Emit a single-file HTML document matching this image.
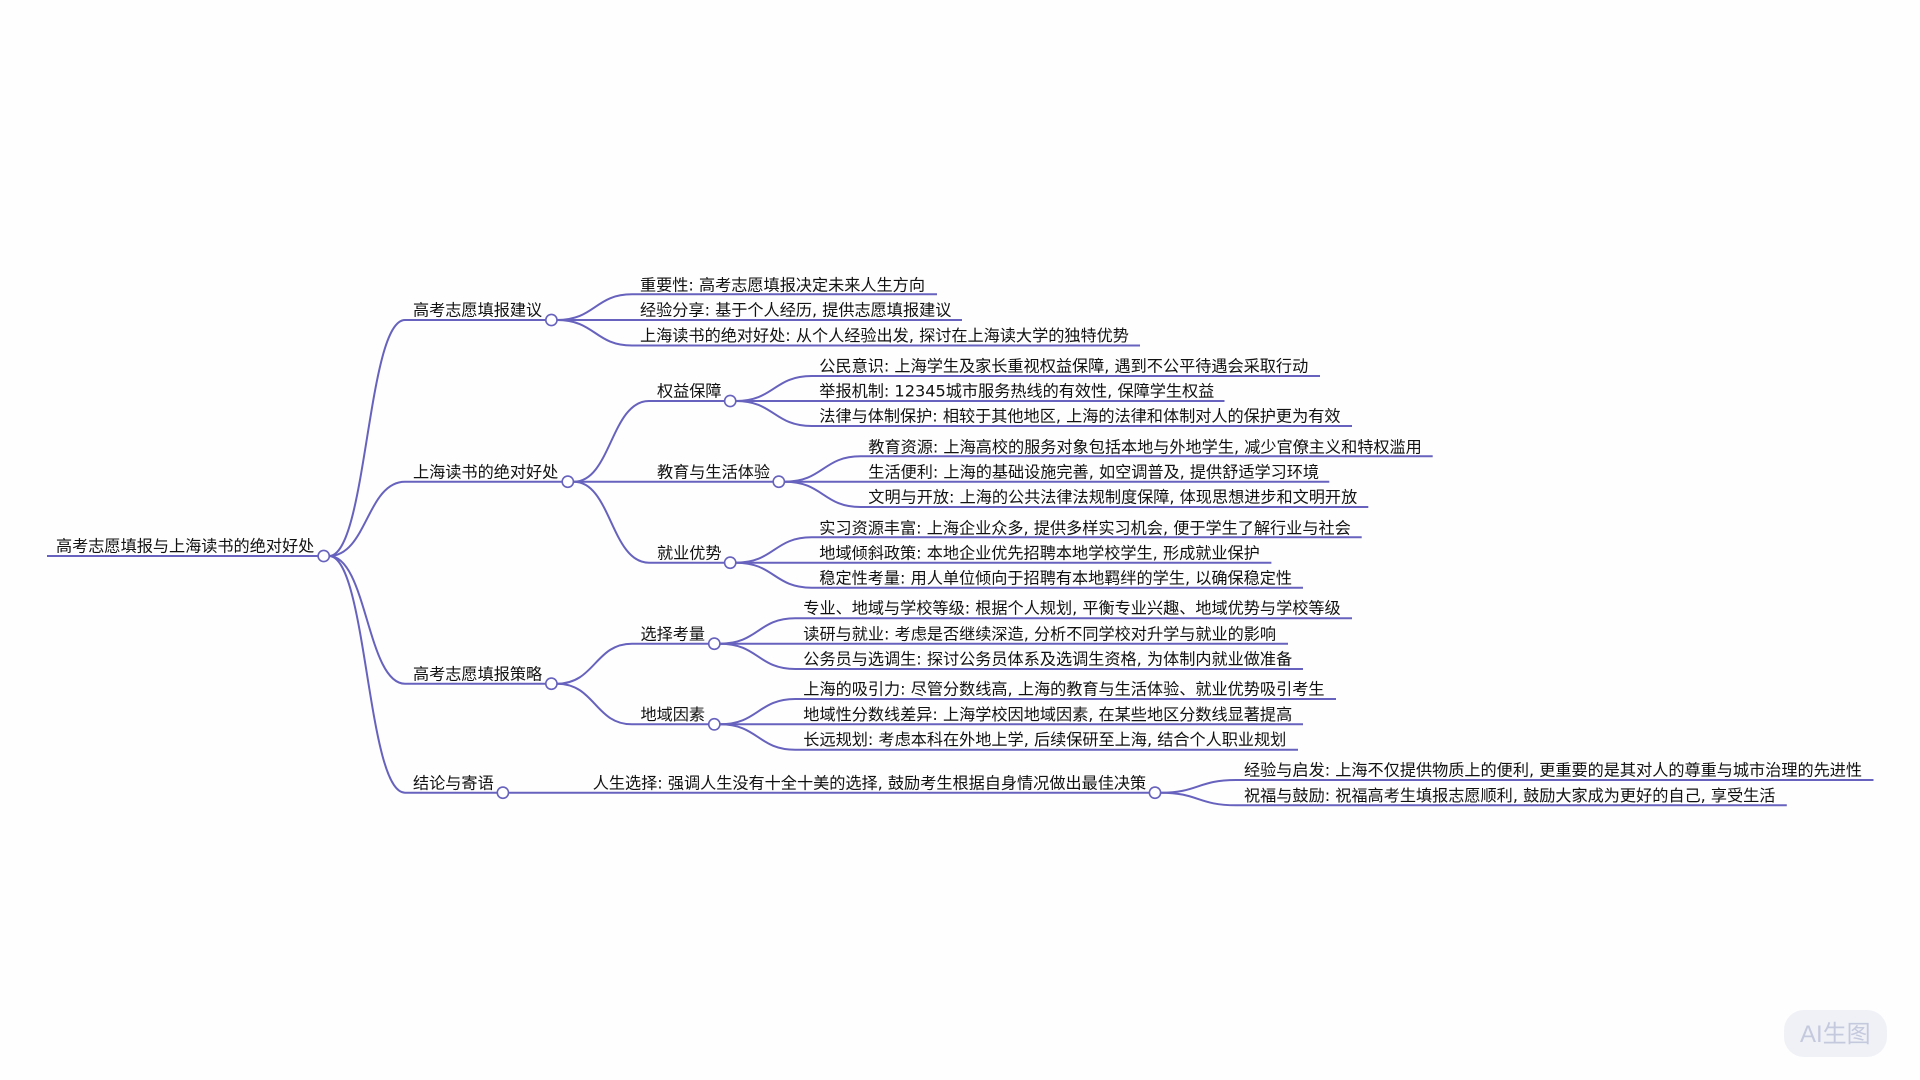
<!DOCTYPE html>
<html lang="zh">
<head>
<meta charset="utf-8">
<title>高考志愿填报与上海读书的绝对好处</title>
<style>
html,body{margin:0;padding:0;background:#fff;width:1920px;height:1080px;overflow:hidden}
svg{display:block;position:absolute;left:0;top:0}
text{font-family:"DejaVu Sans","WenQuanYi Zen Hei","Noto Sans CJK SC",sans-serif;font-size:16.15px;fill:#111;transform:translateY(-0.6px)}
.l{fill:none;stroke:#6762bd;stroke-width:2}
circle{fill:#fff;stroke:#6762bd;stroke-width:1.6}
</style>
</head>
<body>
<svg width="1920" height="1080" viewBox="0 0 1920 1080" xmlns="http://www.w3.org/2000/svg">
<rect width="1920" height="1080" fill="#fefefe"/>
<g class="l">
<path class="l" d="M47 556H324"/>
<path class="l" d="M329 556C367 556 367 320 405 320H551"/>
<path class="l" d="M329 556C367 556 367 481.7 405 481.7H568"/>
<path class="l" d="M329 556C367 556 367 683.7 405 683.7H551"/>
<path class="l" d="M329 556C367 556 367 792.7 405 792.7H503"/>

<path class="l" d="M557 320C595 320 595 294.3 632 294.3H937"/>
<path class="l" d="M557 320H962"/>
<path class="l" d="M557 320C595 320 595 345.5 632 345.5H1140"/>

<path class="l" d="M574 481.7C611 481.7 611 401 649 401H730"/>
<path class="l" d="M574 481.7H779"/>
<path class="l" d="M574 481.7C611 481.7 611 562.7 649 562.7H730"/>

<path class="l" d="M736 401C774 401 774 376 811.6 376H1320"/>
<path class="l" d="M736 401H1224.5"/>
<path class="l" d="M736 401C774 401 774 426 811.6 426H1352"/>

<path class="l" d="M785 481.7C823 481.7 823 456.3 860.6 456.3H1432.7"/>
<path class="l" d="M785 481.7H1329.3"/>
<path class="l" d="M785 481.7C823 481.7 823 507 860.6 507H1368.3"/>

<path class="l" d="M736 562.7C774 562.7 774 537.3 811.6 537.3H1361.7"/>
<path class="l" d="M736 562.7H1271.4"/>
<path class="l" d="M736 562.7C774 562.7 774 587.7 811.6 587.7H1303"/>

<path class="l" d="M557 683.7C595 683.7 595 643.7 632 643.7H714"/>
<path class="l" d="M557 683.7C595 683.7 595 724.3 632 724.3H714"/>

<path class="l" d="M720 643.7C758 643.7 758 618.3 795.3 618.3H1352"/>
<path class="l" d="M720 643.7H1288"/>
<path class="l" d="M720 643.7C758 643.7 758 669 795.3 669H1303"/>

<path class="l" d="M720 724.3C758 724.3 758 699 795.3 699H1336"/>
<path class="l" d="M720 724.3H1303"/>
<path class="l" d="M720 724.3C758 724.3 758 749.7 795.3 749.7H1298"/>

<path class="l" d="M509 792.7H1155"/>
<path class="l" d="M1161 792.7C1198 792.7 1198 780 1236 780H1873.5"/>
<path class="l" d="M1161 792.7C1198 792.7 1198 805.3 1236 805.3H1786.8"/>
</g>

<circle cx="323.7" cy="556" r="5.6"/>
<circle cx="551.4" cy="320" r="5.6"/>
<circle cx="567.8" cy="481.7" r="5.6"/>
<circle cx="551.4" cy="683.7" r="5.6"/>
<circle cx="502.9" cy="792.7" r="5.6"/>
<circle cx="730.2" cy="401" r="5.6"/>
<circle cx="778.8" cy="481.7" r="5.6"/>
<circle cx="730.2" cy="562.7" r="5.6"/>
<circle cx="714.3" cy="643.7" r="5.6"/>
<circle cx="714.3" cy="724.3" r="5.6"/>
<circle cx="1155" cy="792.7" r="5.6"/>

<text x="56" y="552">高考志愿填报与上海读书的绝对好处</text>

<text x="413" y="316">高考志愿填报建议</text>
<text x="413" y="478.2">上海读书的绝对好处</text>
<text x="413" y="680">高考志愿填报策略</text>
<text x="413" y="789">结论与寄语</text>

<text x="640" y="291">重要性: 高考志愿填报决定未来人生方向</text>
<text x="640" y="316">经验分享: 基于个人经历, 提供志愿填报建议</text>
<text x="640" y="341.5">上海读书的绝对好处: 从个人经验出发, 探讨在上海读大学的独特优势</text>

<text x="657" y="397">权益保障</text>
<text x="657" y="478.2">教育与生活体验</text>
<text x="657" y="559.2">就业优势</text>

<text x="819.3" y="372">公民意识: 上海学生及家长重视权益保障, 遇到不公平待遇会采取行动</text>
<text x="819.3" y="397">举报机制: 12345城市服务热线的有效性, 保障学生权益</text>
<text x="819.3" y="422">法律与体制保护: 相较于其他地区, 上海的法律和体制对人的保护更为有效</text>

<text x="868.3" y="453">教育资源: 上海高校的服务对象包括本地与外地学生, 减少官僚主义和特权滥用</text>
<text x="868.3" y="478.2">生活便利: 上海的基础设施完善, 如空调普及, 提供舒适学习环境</text>
<text x="868.3" y="503">文明与开放: 上海的公共法律法规制度保障, 体现思想进步和文明开放</text>

<text x="819.3" y="534">实习资源丰富: 上海企业众多, 提供多样实习机会, 便于学生了解行业与社会</text>
<text x="819.3" y="559.2">地域倾斜政策: 本地企业优先招聘本地学校学生, 形成就业保护</text>
<text x="819.3" y="584">稳定性考量: 用人单位倾向于招聘有本地羁绊的学生, 以确保稳定性</text>

<text x="640.5" y="640">选择考量</text>
<text x="640.5" y="720.5">地域因素</text>

<text x="803.3" y="614.3">专业、地域与学校等级: 根据个人规划, 平衡专业兴趣、地域优势与学校等级</text>
<text x="803.3" y="640">读研与就业: 考虑是否继续深造, 分析不同学校对升学与就业的影响</text>
<text x="803.3" y="665">公务员与选调生: 探讨公务员体系及选调生资格, 为体制内就业做准备</text>

<text x="803.3" y="695">上海的吸引力: 尽管分数线高, 上海的教育与生活体验、就业优势吸引考生</text>
<text x="803.3" y="720.5">地域性分数线差异: 上海学校因地域因素, 在某些地区分数线显著提高</text>
<text x="803.3" y="745.7">长远规划: 考虑本科在外地上学, 后续保研至上海, 结合个人职业规划</text>

<text x="592.7" y="789">人生选择: 强调人生没有十全十美的选择, 鼓励考生根据自身情况做出最佳决策</text>

<text x="1244" y="776">经验与启发: 上海不仅提供物质上的便利, 更重要的是其对人的尊重与城市治理的先进性</text>
<text x="1244" y="801.5">祝福与鼓励: 祝福高考生填报志愿顺利, 鼓励大家成为更好的自己, 享受生活</text>

<rect x="1784" y="1010" width="103" height="47" rx="20" fill="#eff1f7"/>
<text x="1800" y="1042.500" style="font-family:'Liberation Sans','Noto Sans CJK SC',sans-serif;font-size:24px;fill:#c4c9dd">AI生图</text>
</svg>
</body>
</html>
